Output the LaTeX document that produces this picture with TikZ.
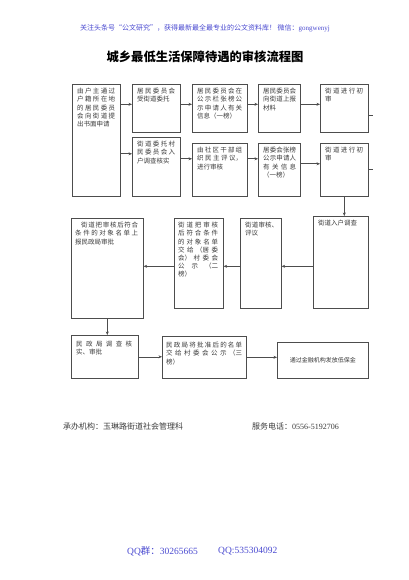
\documentclass[tikz,border=0pt]{standalone}
\usepackage{fontspec}
\setmainfont{Noto Sans CJK SC}
\newfontfamily\latin{Liberation Serif}
\usetikzlibrary{arrows.meta, positioning, calc}
\XeTeXlinebreaklocale "zh"
\XeTeXlinebreakskip = 0pt plus 4pt
\tolerance=10000
\hbadness=10000
\definecolor{boxgray}{HTML}{4D4D4D}
\definecolor{txtgray}{HTML}{3A3A3A}
\definecolor{noteblue}{HTML}{4A4AD0}

\begin{document}
\begin{tikzpicture}[x=1pt, y=-1pt,
    flowbox/.style={draw=boxgray, line width=0.6pt, anchor=north west, inner sep=0pt},
    boxtext/.style={anchor=north west, inner sep=0pt, align=justify, text=txtgray,
                    font=\fontsize{6.5}{8.2}\selectfont},
    arr/.style={draw=boxgray, line width=0.6pt, -{Stealth[length=3.5pt, width=3pt]}}]
  \useasboundingbox (0,0) rectangle (408,580);

  % header and title
  \node[font=\fontsize{7}{8}\selectfont, text=noteblue] (note) at (205,28)
    {关注头条号“公文研究”，获得最新最全最专业的公文资料库！ 微信：{\latin gongwenyj}};
  \node[font=\fontsize{12.3}{14}\selectfont\bfseries] (title) at (205,57)
    {城乡最低生活保障待遇的审核流程图};

  % boxes
  \node[flowbox, minimum width=48, minimum height=112] (a)  at (72,84)   {};
  \node[flowbox, minimum width=48, minimum height=48]  (b1) at (132,84)  {};
  \node[flowbox, minimum width=55, minimum height=48]  (c1) at (192,84)  {};
  \node[flowbox, minimum width=42, minimum height=48]  (d1) at (258,84)  {};
  \node[flowbox, minimum width=48, minimum height=48]  (e1) at (320,84)  {};
  \node[flowbox, minimum width=48, minimum height=59]  (b2) at (132,137) {};
  \node[flowbox, minimum width=55, minimum height=53]  (c2) at (192,143) {};
  \node[flowbox, minimum width=42, minimum height=53]  (d2) at (258,143) {};
  \node[flowbox, minimum width=48, minimum height=53]  (e2) at (320,143) {};
  \node[flowbox, minimum width=55, minimum height=92]  (f)  at (313,216) {};
  \node[flowbox, minimum width=41, minimum height=90]  (g)  at (240,218) {};
  \node[flowbox, minimum width=49, minimum height=90]  (h)  at (174,218) {};
  \node[flowbox, minimum width=72, minimum height=100] (i)  at (71,218)  {};
  \node[flowbox, minimum width=67, minimum height=43]  (j)  at (71,335)  {};
  \node[flowbox, minimum width=84, minimum height=42]  (k)  at (162,336) {};
  \node[flowbox, minimum width=91, minimum height=36]  (l)  at (277,342) {};

  % box texts
  \node[boxtext, text width=38] (a-t) at ([shift={(5,4)}]a.north west)
    {由户主通过\linebreak 户籍所在地\linebreak 的居民委员\linebreak 会向街道提\linebreak 出书面申请};
  \node[boxtext, text width=38] (b1-t) at ([shift={(5,4)}]b1.north west)
    {居民委员会\linebreak 受街道委托};
  \node[boxtext, text width=45] (c1-t) at ([shift={(5,4)}]c1.north west)
    {居民委员会在\linebreak 公示栏张榜公\linebreak 示申请人有关\linebreak 信息（一榜）};
  \node[boxtext, text width=33] (d1-t) at ([shift={(5,4)}]d1.north west)
    {居民委员会\linebreak 向街道上报\linebreak 材料};
  \node[boxtext, text width=38] (e1-t) at ([shift={(5,4)}]e1.north west)
    {街道进行初\linebreak 审};
  \node[boxtext, text width=38] (b2-t) at ([shift={(5,4)}]b2.north west)
    {街道委托村\linebreak 民委员会入\linebreak 户调查核实};
  \node[boxtext, text width=45] (c2-t) at ([shift={(5,4)}]c2.north west)
    {由社区干部组\linebreak 织民主评议，\linebreak 进行审核};
  \node[boxtext, text width=33] (d2-t) at ([shift={(5,4)}]d2.north west)
    {居委会张榜\linebreak 公示申请人\linebreak 有关信息\linebreak （一榜）};
  \node[boxtext, text width=38] (e2-t) at ([shift={(5,4)}]e2.north west)
    {街道进行初\linebreak 审};
  \node[boxtext, text width=45] (f-t) at ([shift={(5,4)}]f.north west)
    {街道入户调查};
  \node[boxtext, text width=33] (g-t) at ([shift={(5,4)}]g.north west)
    {街道审核、\linebreak 评议};
  \node[boxtext, text width=40] (h-t) at ([shift={(4,4)}]h.north west)
    {街道把审核\linebreak 后符合条件\linebreak 的对象名单\linebreak 交给（居委\linebreak 会）村委会\linebreak 公示（二\linebreak 榜）};
  \node[boxtext, text width=63] (i-t) at ([shift={(4,4)}]i.north west)
    {\hspace*{6pt}街道把审核后符合\linebreak 条件的对象名单上\linebreak 报民政局审批};
  \node[boxtext, text width=56] (j-t) at ([shift={(5,6)}]j.north west)
    {民政局调查核\linebreak 实、审批};
  \node[boxtext, text width=76] (k-t) at ([shift={(4,6)}]k.north west)
    {民政局将批准后的名单\linebreak 交给村委会公示（三\linebreak 榜）};
  \node[text=txtgray, font=\fontsize{6}{7}\selectfont, inner sep=0pt] (l-t) at (l.center)
    {通过金融机构发放低保金};

  % connectors
  \coordinate (r1)  at ([shift={(0,-4)}]b1.west);
  \coordinate (r2)  at ([shift={(0,-11)}]c2.west);
  \coordinate (r2a) at ([shift={(0,-13)}]b2.west);
  \coordinate (r2b) at ([shift={(0,-6)}]e2.west);
  \coordinate (r3)  at ([shift={(0,3)}]g.east);
  \draw[arr] (a.east |- r1) -- (r1);
  \draw[arr] (b1.east |- r1) -- (c1.west |- r1);
  \draw[arr] (c1.east |- r1) -- (d1.west |- r1);
  \draw[arr] (d1.east |- r1) -- (e1.west |- r1);
  \draw[arr] (a.east |- r2a) -- (r2a);
  \draw[arr] (b2.east |- r2) -- (r2);
  \draw[arr] (c2.east |- r2) -- (d2.west |- r2);
  \draw[arr] (d2.east |- r2b) -- (r2b);
  \draw[arr] (e2.south) -- (e2.south |- f.north);
  \draw[arr] (f.west |- r3) -- (r3);
  \draw[arr] (g.west |- r3) -- (h.east |- r3);
  \draw[arr] (h.west |- r3) -- (i.east |- r3);
  \draw[arr] (i.south) -- (i.south |- j.north);
  \draw[arr] (j.east) -- (j.east -| k.west);
  \draw[arr] (k.east) -- (k.east -| l.west);
  % short stubs on the right
  \coordinate (s1) at ([shift={(4,7)}]e1.east);
  \coordinate (s2) at ([shift={(4,-1)}]e2.east);
  \draw[draw=boxgray, line width=0.6pt] (s1 -| e1.east) -- (s1);
  \draw[draw=boxgray, line width=0.6pt] (s2 -| e2.east) -- (s2);

  % footer
  \node[anchor=west, font=\fontsize{8}{9}\selectfont, text=txtgray, inner sep=0pt] (org) at (63,426)
    {承办机构：玉琳路街道社会管理科};
  \node[anchor=west, font=\fontsize{8}{9}\selectfont, text=txtgray, inner sep=0pt] (tel) at (252,426)
    {服务电话：{\latin 0556-5192706}};
  \node[anchor=west, font=\fontsize{9.5}{11}\selectfont, text=noteblue, inner sep=0pt] (qq1) at (127,551)
    {{\latin QQ}群：{\latin 30265665}};
  \node[anchor=west, font=\fontsize{9.5}{11}\selectfont\latin, text=noteblue, inner sep=0pt] (qq2) at (218,551)
    {QQ:535304092};
\end{tikzpicture}
\end{document}
